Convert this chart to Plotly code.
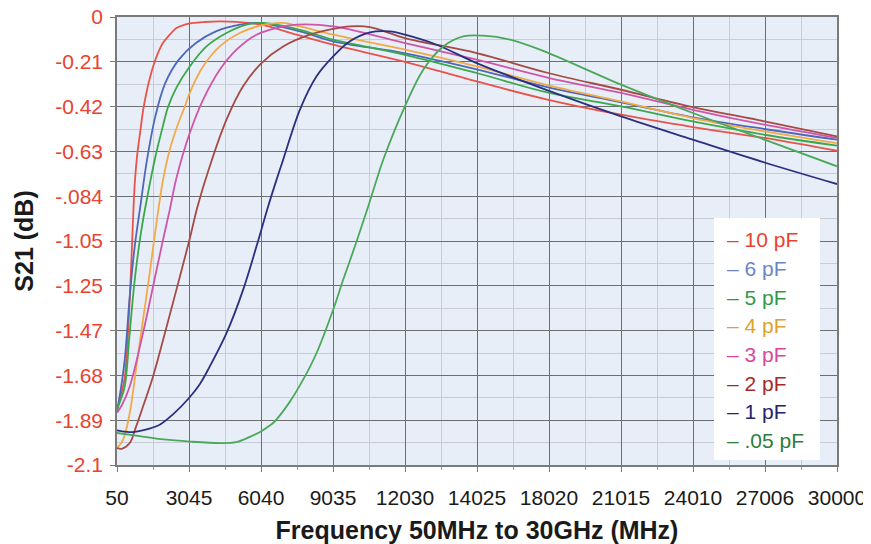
import plotly.graph_objects as go

# ---------------- data (frequency in MHz, S21 in dB) ----------------
x_tick_labels = ["50", "3045", "6040", "9035", "12030", "14025", "18020",
                 "21015", "24010", "27006", "30000"]
y_tick_labels = ["0", "-0.21", "-0.42", "-0.63", "-.084", "-1.05", "-1.25",
                 "-1.47", "-1.68", "-1.89", "-2.1"]

series_names = ["10 pF", "6 pF", "5 pF", "4 pF", "3 pF", "2 pF", "1 pF", ".05 pF"]

f_10pF = [50, 162, 287, 371, 454, 516, 579, 633, 683, 733, 799, 891, 1016, 1141, 1274,
          1411, 1549, 1744, 1965, 2244, 2523, 2869, 3214, 3701, 4325, 5020, 6061, 7518,
          9042, 12027, 15012, 17992, 21019, 24004, 26984, 30000]
s_10pF = [-1.842, -1.794, -1.738, -1.691, -1.583, -1.466, -1.325, -1.185, -1.044, -0.904,
          -0.763, -0.646, -0.538, -0.4345, -0.355, -0.289, -0.233, -0.172, -0.1205, -0.083,
          -0.0516, -0.0361, -0.028, -0.0234, -0.0206, -0.023, -0.036, -0.083, -0.130,
          -0.210, -0.302, -0.388, -0.458, -0.516, -0.567, -0.627]

f_6pF = [50, 204, 371, 579, 787, 1012, 1299, 1644, 2061, 2623, 3331, 4163, 5158, 5908,
         7656, 9042, 12027, 15012, 17992, 21019, 24004, 26984, 30000]
s_6pF = [-1.85, -1.747, -1.607, -1.31, -1.075, -0.894, -0.669, -0.466, -0.309, -0.200,
         -0.122, -0.0675, -0.036, -0.028, -0.0675, -0.114, -0.17, -0.245, -0.33, -0.40,
         -0.47, -0.525, -0.575]

f_5pF = [50, 204, 371, 579, 787, 1066, 1328, 1619, 1953, 2173, 2523, 3076, 3772, 4604,
         5437, 6128, 7656, 9042, 12027, 15012, 17992, 21019, 24004, 26984, 30000]
s_5pF = [-1.841, -1.794, -1.732, -1.481, -1.232, -0.997, -0.833, -0.669, -0.514, -0.422,
         -0.331, -0.232, -0.138, -0.075, -0.036, -0.028, -0.060, -0.106, -0.177, -0.2625,
         -0.355, -0.419, -0.4895, -0.552, -0.603]

f_4pF = [50, 300, 579, 858, 1132, 1411, 1690, 1965, 2244, 2577, 2868, 3047, 3326, 3630,
         4325, 5158, 5991, 6961, 7656, 9042, 12027, 15012, 17992, 21019, 24004, 26984, 30000]
s_4pF = [-2.021, -1.982, -1.857, -1.638, -1.419, -1.200, -0.966, -0.763, -0.622, -0.505,
         -0.4205, -0.364, -0.294, -0.2316, -0.138, -0.075, -0.041, -0.028, -0.044, -0.083,
         -0.153, -0.2316, -0.32, -0.396, -0.4735, -0.536, -0.591]

f_3pF = [50, 250, 579, 1132, 1549, 1965, 2244, 2523, 3076, 3630, 4325, 5020, 5853, 6686,
         7518, 9042, 12027, 15012, 17992, 21019, 24004, 26984, 30000]
s_3pF = [-1.855, -1.82, -1.732, -1.481, -1.263, -1.044, -0.904, -0.755, -0.544, -0.388,
         -0.247, -0.153, -0.083, -0.052, -0.036, -0.044, -0.122, -0.200, -0.285, -0.356,
         -0.435, -0.505, -0.567]

f_2pF = [50, 246, 579, 828, 1132, 1549, 2036, 2523, 3047, 3409, 3909, 4604, 5295, 6061,
         6961, 8072, 9042, 9737, 10570, 12027, 15012, 17992, 21019, 24004, 26984, 30000]
s_2pF = [-2.021, -2.024, -1.997, -1.925, -1.826, -1.685, -1.485, -1.278, -1.052, -0.885,
         -0.700, -0.4815, -0.325, -0.216, -0.138, -0.083, -0.056, -0.044, -0.047, -0.0985,
         -0.169, -0.2625, -0.341, -0.422, -0.489, -0.560]

f_1pF = [50, 579, 1200, 1828, 2400, 3047, 3500, 3909, 4604, 5295, 5853, 6336, 6686, 6961,
         7656, 8351, 9042, 9737, 10570, 11403, 12027, 13346, 15012, 17992, 21019, 24004,
         26984, 30000]
s_1pF = [-1.938, -1.946, -1.935, -1.911, -1.86, -1.786, -1.72, -1.638, -1.482, -1.279,
         -1.075, -0.888, -0.763, -0.669, -0.435, -0.278, -0.185, -0.114, -0.072, -0.0675,
         -0.083, -0.130, -0.216, -0.345, -0.466, -0.575, -0.682, -0.783]

f_005pF = [50, 1000, 2000, 3076, 4325, 5000, 5574, 6000, 6407, 6615, 7200, 7793, 8351,
           9042, 9458, 10016, 10499, 10849, 11124, 12027, 12789, 13621, 14454, 15286,
           16398, 17647, 21019, 24004, 26984, 30000]
s_005pF = [-1.95, -1.965, -1.98, -1.99, -1.997, -1.993, -1.968, -1.945, -1.915, -1.895,
           -1.81, -1.70, -1.575, -1.372, -1.232, -1.052, -0.888, -0.763, -0.669, -0.419,
           -0.247, -0.138, -0.091, -0.0877, -0.106, -0.153, -0.317, -0.450, -0.575, -0.700]

# ---------------- styles ----------------
line_colors = ["#e8534a", "#4d68b8", "#3aa84a", "#f2a94a", "#d055a8", "#a54a44",
               "#2a3080", "#4aa85a"]
legend_colors = ["#e8432e", "#6b84c6", "#2f9a46", "#e0a030", "#d9469e", "#a8282a",
                 "#23236e", "#2a7e3a"]
freqs = [f_10pF, f_6pF, f_5pF, f_4pF, f_3pF, f_2pF, f_1pF, f_005pF]
vals = [s_10pF, s_6pF, s_5pF, s_4pF, s_3pF, s_2pF, s_1pF, s_005pF]

# the page body adds an 8px offset; plot area lands at page x 117..837, y 17..465
OFF = 8
W, H = 871, 544
ML, MT = 117 - OFF, 17 - OFF
MR = W - (837 - OFF)
MB = H - (465 - OFF)
PW, PH = W - ML - MR, H - MT - MB

x_step = (30000 - 50) / 10
x_ticks = [50 + x_step * i for i in range(11)]
x_minor = [50 + x_step * (i + 0.5) for i in range(10)]
y_ticks = [-0.21 * i for i in range(11)]
y_minor = [-0.21 * (i + 0.5) for i in range(10)]

FONT = "Liberation Sans, Arial, Helvetica, sans-serif"

fig = go.Figure()
for name, fx, sy, col in zip(series_names, freqs, vals, line_colors):
    fig.add_trace(go.Scatter(x=fx, y=sy, mode="lines", name=name,
                             line=dict(color=col, width=1.8, shape="spline", smoothing=1.0),
                             showlegend=False))


def px2paper_x(px):
    return (px - OFF - ML) / PW


def px2paper_y(py):
    return (MT + PH - (py - OFF)) / PH


# legend box (white) and entries
fig.add_shape(type="rect", xref="paper", yref="paper",
              x0=px2paper_x(714), x1=px2paper_x(820),
              y0=px2paper_y(460), y1=px2paper_y(218),
              fillcolor="white", line=dict(width=0), layer="above")

for i, (name, col) in enumerate(zip(series_names, legend_colors)):
    fig.add_annotation(xref="paper", yref="paper", x=px2paper_x(725),
                       y=px2paper_y(240 + 28.6 * i), xanchor="left", yanchor="middle",
                       text="– " + name, showarrow=False,
                       font=dict(family=FONT, size=21, color=col))

axis_common = dict(showline=True, mirror=True, linecolor="#7a7a7a", linewidth=1.5,
                   showgrid=True, gridcolor="#6e6e6e", gridwidth=1.3, zeroline=False,
                   ticks="outside", ticklen=5, tickcolor="#7a7a7a", tickwidth=1.2,
                   ticklabeloverflow="allow")

fig.update_xaxes(range=[50, 30000], tickmode="array", tickvals=x_ticks,
                 ticktext=x_tick_labels,
                 tickfont=dict(family=FONT, size=21, color="#1a1a1a"),
                 minor=dict(tickmode="array", tickvals=x_minor, showgrid=True,
                            gridcolor="#c7ccd8", gridwidth=1, ticks="outside", ticklen=3,
                            tickcolor="#9a9a9a"),
                 title=dict(text="Frequency 50MHz to 30GHz (MHz)", standoff=14,
                            font=dict(family=FONT, size=25, color="#1a1a1a", weight="bold")),
                 ticklabelstandoff=8,
                 **axis_common)
fig.update_yaxes(range=[-2.1, 0], tickmode="array", tickvals=y_ticks,
                 ticktext=y_tick_labels,
                 tickfont=dict(family=FONT, size=21, color="#e8432e"),
                 minor=dict(tickmode="array", tickvals=y_minor, showgrid=True,
                            gridcolor="#c7ccd8", gridwidth=1),
                 title=dict(text="S21 (dB)", standoff=14,
                            font=dict(family=FONT, size=25, color="#1a1a1a", weight="bold")),
                 ticklabelstandoff=3,
                 **axis_common)

fig.update_layout(width=W, height=H, margin=dict(l=ML, r=MR, t=MT, b=MB, autoexpand=False),
                  paper_bgcolor="white", plot_bgcolor="#e8eef8", showlegend=False,
                  font=dict(family=FONT))

fig.write_html("out.html")
